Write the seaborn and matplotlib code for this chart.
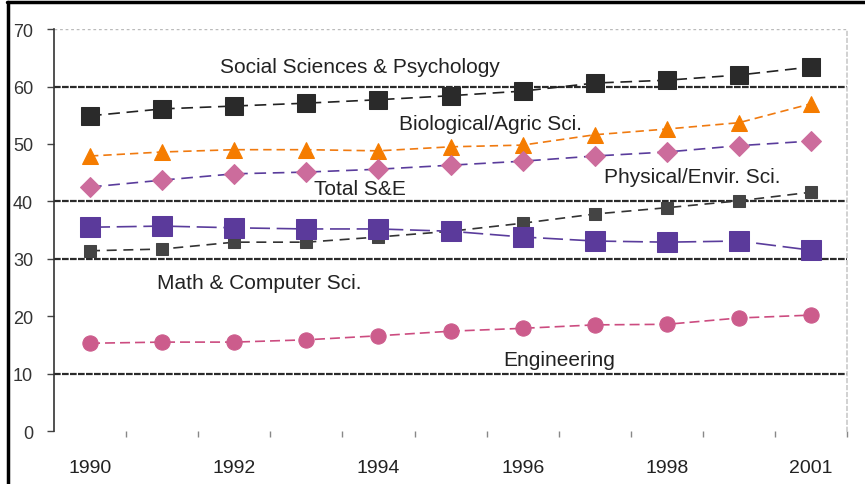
import matplotlib
matplotlib.use("Agg")
import matplotlib.pyplot as plt
from matplotlib.lines import Line2D
import numpy as np
import pandas as pd
import seaborn as sns

# Data (percent); 2000 is not in the series
years = ["1990", "1991", "1992", "1993", "1994", "1995", "1996", "1997", "1998", "1999", "2001"]
social = [54.9, 56.1, 56.6, 57.1, 57.7, 58.4, 59.2, 60.6, 61.1, 62.0, 63.4]
bio = [47.9, 48.6, 49.0, 49.0, 48.8, 49.5, 49.8, 51.6, 52.6, 53.7, 57.0]
total = [42.5, 43.7, 44.8, 45.1, 45.6, 46.3, 47.0, 47.9, 48.6, 49.7, 50.5]
physical = [31.4, 31.7, 32.9, 32.9, 33.8, 34.8, 36.2, 37.8, 38.9, 40.1, 41.6]
math_cs = [35.5, 35.7, 35.4, 35.2, 35.2, 34.8, 33.8, 33.1, 32.9, 33.1, 31.5]
engineering = [15.3, 15.5, 15.5, 15.9, 16.6, 17.4, 17.9, 18.5, 18.6, 19.7, 20.2]

series_labels = ["Social Sciences & Psychology", "Biological/Agric Sci.", "Total S&E",
                 "Physical/Envir. Sci.", "Math & Computer Sci.", "Engineering"]
y_ticks = [0, 10, 20, 30, 40, 50, 60, 70]

sns.set_theme(style="white")
plt.rcParams["font.family"] = ["Liberation Sans", "DejaVu Sans"]

fig = plt.figure(figsize=(8.65, 4.85), dpi=100)
ax = fig.add_axes([0.0624, 0.109, 0.917, 0.829])

x = np.arange(len(years))
df = pd.DataFrame({"x": x, "social": social, "bio": bio, "total": total,
                   "physical": physical, "math": math_cs, "eng": engineering})

# (column, line colour, marker, marker face, marker size, dashes)
styles = [
    ("social", "#222222", "s", "#2a2a2a", 13, (7, 4)),
    ("bio", "#f07a10", "^", "#f57c00", 12, (5, 3)),
    ("total", "#5a3c9c", "D", "#cc6c9c", 10, (7, 4)),
    ("physical", "#333333", "s", "#444444", 8, (6, 4)),
    ("math", "#5a3c9c", "s", "#5b3a9b", 14, (12, 4)),
    ("eng", "#cc4c80", "o", "#cc5c8c", 11, (6, 3)),
]

for col, lc, mk, mfc, ms, dash in styles:
    sns.lineplot(data=df, x="x", y=col, ax=ax, color=lc, linewidth=1.2,
                 marker=mk, markersize=ms, markerfacecolor=mfc,
                 markeredgecolor=mfc, dashes=False, zorder=3)
    ax.lines[-1].set_dashes(dash)

# gridlines: only some of them are drawn dark in the original
for v in [10, 30, 40, 60]:
    ax.axhline(v, color="#2a2a2a", linewidth=1.6, linestyle=(0, (3, 0.6)), zorder=1)
ax.axhline(70, color="#bbbbbb", linewidth=1, linestyle=(0, (2, 2)), zorder=1)

ax.set_xlim(-0.5, 10.5)
ax.set_ylim(0, 70)
ax.set_yticks(y_ticks)
ax.set_yticklabels([str(t) for t in y_ticks], fontsize=13, color="#333333")
ax.set_xticks(x[::2])
ax.set_xticklabels(years[::2], fontsize=14, color="#222222")
ax.set_xticks(np.arange(0.5, 11, 1), minor=True)
ax.tick_params(axis="x", which="major", length=0, pad=20)
ax.tick_params(axis="x", which="minor", bottom=True, length=4, width=1, color="#888888")
ax.tick_params(axis="y", left=True, length=5, width=1, color="#444444", pad=10)
ax.set_xlabel("")
ax.set_ylabel("")

for side in ["top", "bottom"]:
    ax.spines[side].set_visible(False)
ax.spines["left"].set_color("#333333")
ax.spines["left"].set_linewidth(1.2)
ax.spines["right"].set_color("#cccccc")
ax.spines["right"].set_linestyle((0, (2, 2)))

# series labels placed inside the plot
label_pos = [(3.74, 63.4), (5.56, 53.6), (3.74, 42.3), (8.35, 44.3), (2.35, 25.8), (6.5, 12.5)]
for text, (lx, ly) in zip(series_labels, label_pos):
    ax.text(lx, ly, text, ha="center", va="center", fontsize=15, color="#222222", zorder=4)

# outer frame lines at the top and left of the picture
fig.add_artist(Line2D([0.008, 1.0], [0.993, 0.993], color="black", linewidth=2.5,
                      transform=fig.transFigure))
fig.add_artist(Line2D([0.009, 0.009], [0.0, 0.993], color="black", linewidth=2.5,
                      transform=fig.transFigure))

fig.savefig("out.png", dpi=100)
plt.close(fig)
